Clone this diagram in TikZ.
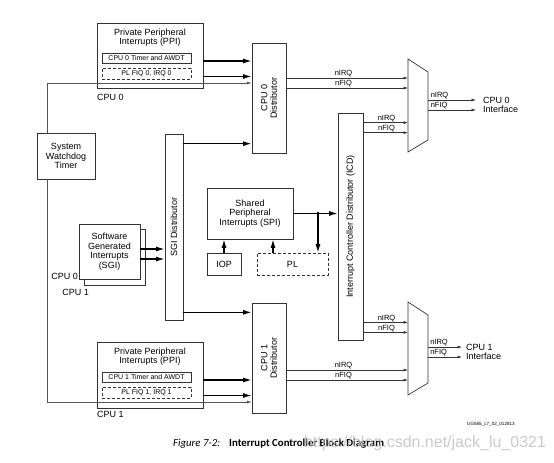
\documentclass[tikz,border=0pt]{standalone}
\usepackage{fontspec}
\setmainfont{Liberation Sans}
\newfontfamily\capfont{Carlito}
\usepackage{tikz}
\usetikzlibrary{arrows.meta,positioning,calc}
\definecolor{linecol}{HTML}{333333}
\definecolor{wdcol}{HTML}{555555}
\definecolor{markcol}{HTML}{BDBDBD}
\providecommand{\lblfont}{\fontsize{9}{9.6}\selectfont}
\providecommand{\smlfont}{\fontsize{7}{8}\selectfont}
\providecommand{\sigfont}{\fontsize{7.5}{8}\selectfont}
\tikzset{
    blk/.style={draw=linecol, line width=0.7pt, fill=white, inner sep=0pt,
        align=center, font=\lblfont},
    inbox/.style={draw=linecol, line width=0.7pt, minimum width=89pt,
        inner sep=0pt, font=\smlfont},
    plbox/.style={inbox, dash pattern=on 3pt off 2pt},
    vtxt/.style={rotate=90, align=center, font=\lblfont},
    txt/.style={align=center, font=\lblfont, inner sep=0pt},
    muxf/.style={minimum width=20pt, minimum height=93pt, inner sep=0pt, outer sep=0pt},
    sig/.style={font=\sigfont, inner sep=0.6pt},
    thn/.style={-{Latex[length=4.5pt,width=3pt]}, draw=linecol, line width=0.6pt},
    thk/.style={-{Latex[length=8.5pt,width=5pt]}, draw=black, line width=1.3pt},
}

\begin{document}
\begin{tikzpicture}[x=1pt, y=-1pt]

    \useasboundingbox (0,0) rectangle (554,463);

    \node[blk, minimum width=106pt, minimum height=65pt] at (150,55.5) (ppi0) {};
    \node[txt] at (150,37.5) (ppi0t) {Private Peripheral\\Interrupts (PPI)};
    \node[inbox, minimum height=10pt] at (146.5,58) (tmr0) {CPU 0 Timer and AWDT};
    \node[plbox, minimum height=11pt] at (146.5,73.5) (plq0) {PL FIQ 0, IRQ 0};
    \node[txt, anchor=west] at (97,97) (ppi0c) {CPU 0};

    \node[blk, minimum width=106pt, minimum height=66pt] at (150,375) (ppi1) {};
    \node[txt] at (150,356.5) (ppi1t) {Private Peripheral\\Interrupts (PPI)};
    \node[inbox, minimum height=10pt] at (146.5,377) (tmr1) {CPU 1 Timer and AWDT};
    \node[plbox, minimum height=11pt] at (146.5,392.5) (plq1) {PL FIQ 1, IRQ 1};
    \node[txt, anchor=west] at (97,414) (ppi1c) {CPU 1};

    \node[blk, minimum width=34pt, minimum height=110pt,
        label={[vtxt]center:CPU 0\\Distributor}] at (269,98) (dist0) {};
    \node[blk, minimum width=34pt, minimum height=110pt,
        label={[vtxt]center:CPU 1\\Distributor}] at (269,358) (dist1) {};

    \node[blk, minimum width=58pt, minimum height=46pt] at (66,156) (wdt) {System\\Watchdog\\Timer};

    \node[blk, minimum width=18pt, minimum height=186pt,
        label={[vtxt]center:SGI Distributor}] at (174,227) (sgid) {};

    \node[blk, minimum width=61pt, minimum height=56pt] at (114.5,257) (sgi1) {};
    \node[blk, minimum width=61pt, minimum height=55pt] at (109.5,251.5) (sgi0)
        {Software\\Generated\\Interrupts\\(SGI)};
    \node[txt, anchor=east] at (78,276) (sgi0c) {CPU 0};
    \node[txt, anchor=east] at (89,292) (sgi1c) {CPU 1};

    \node[blk, minimum width=86pt, minimum height=51pt] at (250,213.5) (spi)
        {Shared\\Peripheral\\Interrupts (SPI)};
    \node[blk, minimum width=34pt, minimum height=22pt] at (224,264) (iop) {IOP};
    \node[blk, minimum width=71pt, minimum height=22pt, dash pattern=on 3pt off 2pt]
        at (292.5,264) (pl) {PL};

    \node[blk, minimum width=25pt, minimum height=227pt,
        label={[vtxt]center:Interrupt Controller Distributor (ICD)}] at (350.5,226.5) (icd) {};

    \node[muxf] at (418,105.5) (mux0) {};
    \node[muxf] at (418,348.5) (mux1) {};
    \foreach \m in {mux0,mux1}
        \draw[draw=linecol, line width=0.7pt] (\m.north west) -- ([yshift=-13pt]\m.north east)
            -- ([yshift=12pt]\m.south east) -- (\m.south west) -- cycle;

    \node[txt, anchor=west, align=left, inner xsep=7pt] at (476,105) (cpu0if) {CPU 0\\Interface};
    \node[txt, anchor=west, align=left, inner xsep=4pt] at (462,352) (cpu1if) {CPU 1\\Interface};

    \foreach \n in {0,1} {
        \draw[thk] ($(tmr\n.east -| ppi\n.east)+(0,3)$) coordinate (a) -- (a -| dist\n.west);
        \draw[thk] ($(plq\n.east -| ppi\n.east)+(0,3)$) coordinate (a) -- (a -| dist\n.west);
    }

    \coordinate (wd0) at (47,83);
    \coordinate (wd1) at (47,402);
    \draw[thn, draw=wdcol] (wdt.north -| wd0) |- (wd0 -| dist0.west);
    \draw[thn, draw=wdcol] (wdt.south -| wd1) |- (wd1 -| dist1.west);

    \draw[thk] ($(sgi0.east)+(0,-2.5)$) coordinate (a) -- (a -| sgid.west);
    \draw[thk] ($(sgi0.east)+(0,7.5)$) coordinate (a) -- (a -| sgid.west);
    \draw[thk] ($(sgid.north east)+(0,10)$) coordinate (a) -- (a -| dist0.west);
    \draw[thk] ($(sgid.south east)+(0,-8)$) coordinate (a) -- (a -| dist1.west);

    \draw[thk] (iop.north) -- (iop.north |- spi.south);
    \draw[thk] ($(pl.north)+(-19.5,0)$) coordinate (a) -- (a |- spi.south);
    \draw[thk] (spi.east) -- (spi.east -| icd.west);
    \coordinate (jn) at ($(spi.east)!0.556!(spi.east -| icd.west)$);
    \fill (jn) circle (1.8pt);
    \draw[thk] (jn) -- (jn |- pl.north);

    \foreach \s/\t in {-20/nIRQ, -10/nFIQ}
        \draw[thn] ($(dist0.east)+(0,\s)$) coordinate (a) --
            node[sig, above, pos=.47]{\t} (a -| mux0.west);
    \foreach \s/\t in {12/nIRQ, 22/nFIQ}
        \draw[thn] ($(dist1.east)+(0,\s)$) coordinate (a) --
            node[sig, above, pos=.47]{\t} (a -| mux1.west);
    \foreach \s/\t in {10/nIRQ, 20/nFIQ}
        \draw[thn] ($(icd.north east)+(0,\s)$) coordinate (a) --
            node[sig, above, pos=.52]{\t} (a -| mux0.west);
    \foreach \s/\t in {-18/nIRQ, -8/nFIQ}
        \draw[thn] ($(icd.south east)+(0,\s)$) coordinate (a) --
            node[sig, above, pos=.52]{\t} (a -| mux1.west);
    \foreach \s/\t in {-5.5/nIRQ, 4.5/nFIQ}
        \draw[thn] ($(mux0.east)+(0,\s)$) coordinate (a) --
            node[sig, above right, pos=.04]{\t} (a -| cpu0if.west);
    \foreach \s/\t in {-1.5/nIRQ, 8.5/nFIQ}
        \draw[thn] ($(mux1.east)+(0,\s)$) coordinate (a) --
            node[sig, above right, pos=.04]{\t} (a -| cpu1if.west);

    \node[font=\fontsize{4.6}{5}\selectfont, inner sep=0pt] at (491,424) (ugid) {UG585\_c7\_02\_012813};
    \node[anchor=base west, inner sep=0pt, font={\capfont\fontsize{10.8}{12}\selectfont}]
        at (173,446) (cap) {\itshape Figure 7-2:\hspace{9pt}\upshape\bfseries Interrupt Controller Block Diagram};
    \node[font=\fontsize{16}{18}\selectfont, text=markcol, text opacity=0.8, inner sep=0pt]
        at (425,443) (wmark) {https://blog.csdn.net/jack\_lu\_0321};

\end{tikzpicture}
\end{document}
